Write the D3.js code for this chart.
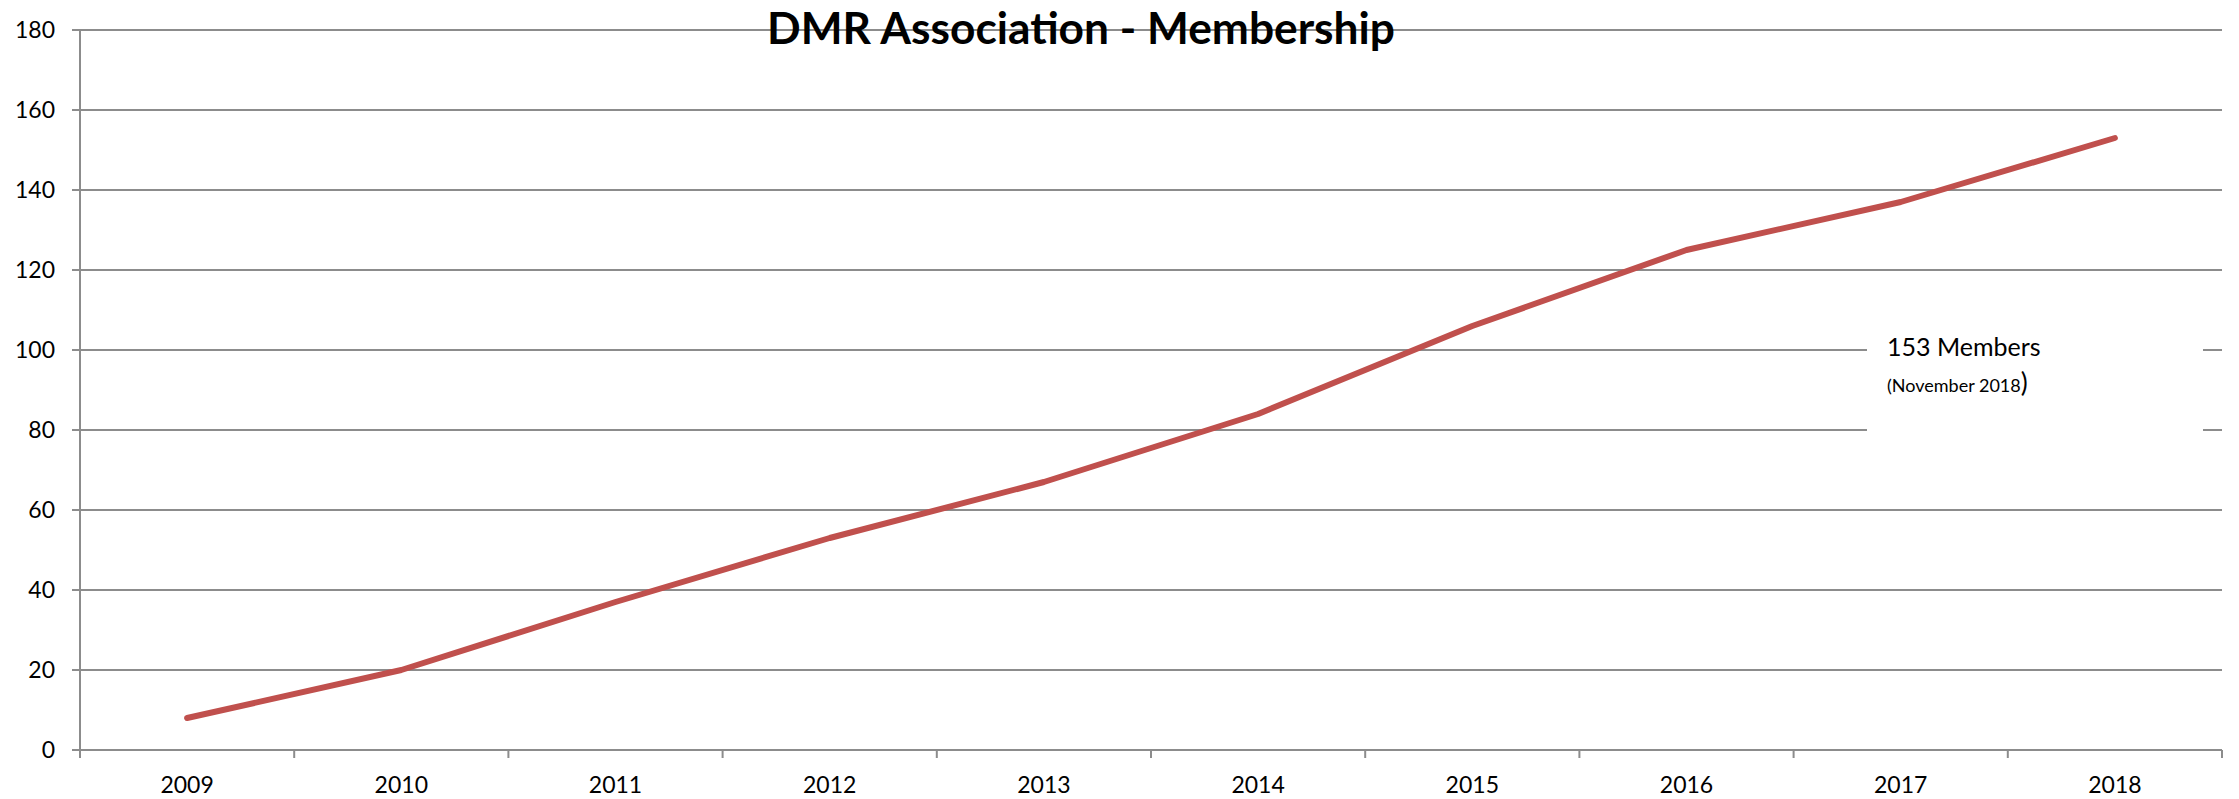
<!DOCTYPE html>
<html>
<head>
<meta charset="utf-8">
<script src="https://cdn.jsdelivr.net/npm/d3@7"></script>
<style>
  html, body { margin: 0; padding: 0; background: #fff; }
  svg { display: block; }
</style>
</head>
<body>
<svg id="chart" width="2239" height="799"></svg>
<script>
// ---- Data ----
const years = ["2009","2010","2011","2012","2013","2014","2015","2016","2017","2018"];
const members = [8, 20, 37, 53, 67, 84, 106, 125, 137, 153];
const yTicks = [0, 20, 40, 60, 80, 100, 120, 140, 160, 180];
const titleText = "DMR Association - Membership";
const noteMain = "153 Members";
const noteSub = "(November 2018";
const noteClose = ")";

(function () {
// ---- Layout ----
const plotLeft = 80, plotRight = 2222, plotTop = 30, plotBottom = 750;
const gridColor = "#8c8c8c";
const lineColor = "#C0504D";
const font = "Lato, 'Open Sans', sans-serif";

const svg = d3.select("#chart");

const x = d3.scaleBand().domain(years).range([plotLeft, plotRight]).padding(0);
const y = d3.scaleLinear().domain([0, 180]).range([plotBottom, plotTop]);

// Gridlines + left ticks
svg.append("g").selectAll("line").data(yTicks).join("line")
  .attr("x1", plotLeft - 8).attr("x2", plotRight)
  .attr("y1", d => y(d)).attr("y2", d => y(d))
  .attr("stroke", gridColor).attr("stroke-width", 2);

// Y axis line
svg.append("line")
  .attr("x1", plotLeft).attr("x2", plotLeft)
  .attr("y1", y(180)).attr("y2", plotBottom + 8)
  .attr("stroke", gridColor).attr("stroke-width", 2);

// X ticks at category boundaries
const bounds = years.map(d => x(d)).concat([x(years[years.length-1]) + x.bandwidth()]);
svg.append("g").selectAll("line").data(bounds.slice(1)).join("line")
  .attr("x1", d => d).attr("x2", d => d)
  .attr("y1", plotBottom).attr("y2", plotBottom + 8)
  .attr("stroke", gridColor).attr("stroke-width", 2);

// Y tick labels
svg.append("g").selectAll("text").data(yTicks).join("text")
  .attr("x", 55).attr("y", d => y(d))
  .attr("dy", "0.35em")
  .attr("text-anchor", "end")
  .attr("font-family", font).attr("font-size", 23)
  .attr("fill", "#000")
  .text(d => d);

// X tick labels
svg.append("g").selectAll("text").data(years).join("text")
  .attr("x", d => x(d) + x.bandwidth() / 2).attr("y", 793)
  .attr("text-anchor", "middle")
  .attr("font-family", font).attr("font-size", 23)
  .attr("fill", "#000")
  .text(d => d);

// Annotation box (white, hides gridlines)
svg.append("rect")
  .attr("x", 1867).attr("y", 300).attr("width", 2203 - 1867).attr("height", 140)
  .attr("fill", "#fff");

const note = svg.append("g").attr("font-family", font).attr("fill", "#000");
note.append("text").attr("x", 1887).attr("y", 356).attr("font-size", 25).text(noteMain);
const sub = note.append("text").attr("x", 1887).attr("y", 392).attr("font-size", 18);
sub.append("tspan").text(noteSub);
sub.append("tspan").attr("font-size", 26).text(noteClose);

// Line
const line = d3.line()
  .x((d, i) => x(years[i]) + x.bandwidth() / 2)
  .y(d => y(d));
svg.append("path")
  .datum(members)
  .attr("d", line)
  .attr("fill", "none")
  .attr("stroke", lineColor)
  .attr("stroke-width", 6)
  .attr("stroke-linejoin", "round")
  .attr("stroke-linecap", "round");

// Title
const title = svg.append("text")
  .attr("x", 1081).attr("y", 44)
  .attr("text-anchor", "middle")
  .attr("font-family", font).attr("font-weight", "bold")
  .attr("font-size", 40)
  .attr("fill", "#000")
  .text(titleText);
const tw = title.node().getComputedTextLength();
title.attr("font-size", 40 * 628 / tw);
})();
</script>
</body>
</html>
